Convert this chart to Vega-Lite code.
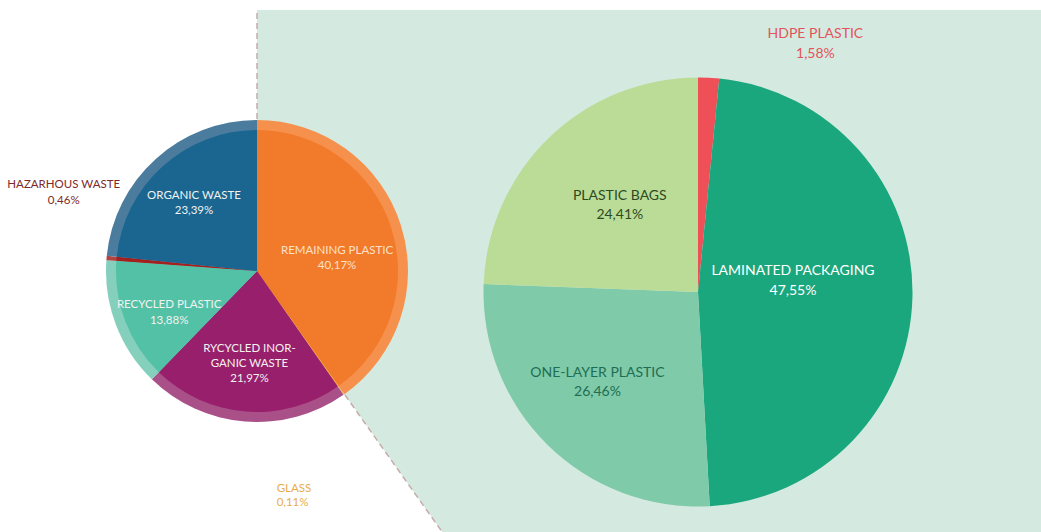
{
  "$schema": "https://vega.github.io/schema/vega-lite/v6.json",
  "width": 1041,
  "height": 522,
  "autosize": {"type": "none"},
  "padding": {"left": 0, "top": 10, "right": 0, "bottom": 0},
  "background": "white",
  "config": {"view": {"stroke": null}, "font": "Lato"},
  "datasets": {
    "waste": [
      {"chart": "All waste", "name": "REMAINING PLASTIC", "label": "REMAINING PLASTIC\n40,17%", "share": 40.17},
      {"chart": "All waste", "name": "GLASS", "label": "GLASS\n0,11%", "share": 0.11},
      {"chart": "All waste", "name": "RYCYCLED INORGANIC WASTE", "label": "RYCYCLED INOR-\nGANIC WASTE\n21,97%", "share": 21.97},
      {"chart": "All waste", "name": "RECYCLED PLASTIC", "label": "RECYCLED PLASTIC\n13,88%", "share": 13.88},
      {"chart": "All waste", "name": "HAZARHOUS WASTE", "label": "HAZARHOUS WASTE\n0,46%", "share": 0.46},
      {"chart": "All waste", "name": "ORGANIC WASTE", "label": "ORGANIC WASTE\n23,39%", "share": 23.39}
    ],
    "plastic": [
      {"chart": "Plastic waste", "name": "HDPE PLASTIC", "label": "HDPE PLASTIC\n1,58%", "share": 1.58},
      {"chart": "Plastic waste", "name": "LAMINATED PACKAGING", "label": "LAMINATED PACKAGING\n47,55%", "share": 47.55},
      {"chart": "Plastic waste", "name": "ONE-LAYER PLASTIC", "label": "ONE-LAYER PLASTIC\n26,46%", "share": 26.46},
      {"chart": "Plastic waste", "name": "PLASTIC BAGS", "label": "PLASTIC BAGS\n24,41%", "share": 24.41}
    ]
  },
  "encoding": {
    "x": {"field": "chart", "type": "nominal", "scale": {"type": "point", "domain": ["All waste", "Plastic waste"], "range": [257, 698], "padding": 0}, "axis": null},
    "y": {"field": "chart", "type": "nominal", "scale": {"type": "point", "domain": ["All waste", "Plastic waste"], "range": [261, 282], "padding": 0}, "axis": null},
    "theta": {"field": "share", "type": "quantitative", "stack": true},
    "order": {"field": "idx", "type": "quantitative"}
  },
  "layer": [
    {
      "data": {"name": "waste"},
      "transform": [{"window": [{"op": "row_number", "as": "idx"}]}],
      "mark": {"type": "arc", "radius": 950, "color": "#d4eae1", "stroke": "#c6aca8", "strokeWidth": 1.5, "strokeDash": [6, 4], "clip": true},
      "encoding": {
        "opacity": {"condition": {"test": "datum.name === 'REMAINING PLASTIC'", "value": 1}, "value": 0}
      }
    },
    {
      "data": {"name": "plastic"},
      "transform": [{"window": [{"op": "row_number", "as": "idx"}]}],
      "mark": {"type": "arc", "radius": 214.5},
      "encoding": {
        "color": {"field": "name", "type": "nominal", "legend": null,
          "scale": {"domain": ["HDPE PLASTIC", "LAMINATED PACKAGING", "ONE-LAYER PLASTIC", "PLASTIC BAGS"], "range": ["#ef4f57", "#1ba77d", "#7fcaa8", "#bbdc97"]}}
      }
    },
    {
      "data": {"name": "waste"},
      "transform": [{"window": [{"op": "row_number", "as": "idx"}]}],
      "mark": {"type": "arc", "radius": 151},
      "encoding": {
        "color": {"field": "name", "type": "nominal", "legend": null,
          "scale": {"domain": ["REMAINING PLASTIC", "GLASS", "RYCYCLED INORGANIC WASTE", "RECYCLED PLASTIC", "HAZARHOUS WASTE", "ORGANIC WASTE"], "range": ["#f6914d", "#f4b65a", "#a95089", "#84d0bd", "#b04545", "#4b7c9e"]}}
      }
    },
    {
      "data": {"name": "waste"},
      "transform": [{"window": [{"op": "row_number", "as": "idx"}]}],
      "mark": {"type": "arc", "radius": 141},
      "encoding": {
        "color": {"field": "name", "type": "nominal", "legend": null,
          "scale": {"domain": ["REMAINING PLASTIC", "GLASS", "RYCYCLED INORGANIC WASTE", "RECYCLED PLASTIC", "HAZARHOUS WASTE", "ORGANIC WASTE"], "range": ["#f27a2b", "#f2a93a", "#981f6c", "#52c1a6", "#a3201f", "#1b6690"]}}
      }
    },
    {
      "data": {"name": "waste"},
      "transform": [{"window": [{"op": "row_number", "as": "idx"}]}],
      "mark": {"type": "text", "radius": 94, "dy": -5, "fontSize": 11.5, "lineHeight": 15, "lineBreak": "\n", "color": "#f2f2f0"},
      "encoding": {
        "text": {"condition": {"test": "datum.name === 'ORGANIC WASTE'", "field": "label", "type": "nominal"}, "value": ""}
      }
    },
    {
      "data": {"name": "waste"},
      "transform": [{"window": [{"op": "row_number", "as": "idx"}]}],
      "mark": {"type": "text", "radius": 94, "dy": 1, "fontSize": 11.5, "lineHeight": 16, "lineBreak": "\n", "color": "#f2f2f0"},
      "encoding": {
        "text": {"condition": {"test": "datum.name === 'RECYCLED PLASTIC'", "field": "label", "type": "nominal"}, "value": ""}
      }
    },
    {
      "data": {"name": "waste"},
      "transform": [{"window": [{"op": "row_number", "as": "idx"}]}],
      "mark": {"type": "text", "radius": 94, "dy": -16, "fontSize": 11.5, "lineHeight": 15, "lineBreak": "\n", "color": "#f2f2f0"},
      "encoding": {
        "text": {"condition": {"test": "datum.name === 'RYCYCLED INORGANIC WASTE'", "field": "label", "type": "nominal"}, "value": ""}
      }
    },
    {
      "data": {"name": "waste"},
      "transform": [{"window": [{"op": "row_number", "as": "idx"}]}],
      "mark": {"type": "text", "radius": 84, "dy": 6, "fontSize": 11.5, "lineHeight": 15, "lineBreak": "\n", "color": "#fde0c8"},
      "encoding": {
        "text": {"condition": {"test": "datum.name === 'REMAINING PLASTIC'", "field": "label", "type": "nominal"}, "value": ""}
      }
    },
    {
      "data": {"name": "waste"},
      "transform": [{"window": [{"op": "row_number", "as": "idx"}]}],
      "mark": {"type": "text", "radius": 194, "dy": -69, "fontSize": 11.5, "lineHeight": 16, "lineBreak": "\n", "color": "#7d2a2a"},
      "encoding": {
        "text": {"condition": {"test": "datum.name === 'HAZARHOUS WASTE'", "field": "label", "type": "nominal"}, "value": ""}
      }
    },
    {
      "data": {"name": "waste"},
      "transform": [{"window": [{"op": "row_number", "as": "idx"}]}],
      "mark": {"type": "text", "radius": 272, "dx": -137, "dy": -4, "align": "left", "fontSize": 11.5, "lineHeight": 13.5, "lineBreak": "\n", "color": "#e8ad4a"},
      "encoding": {
        "text": {"condition": {"test": "datum.name === 'GLASS'", "field": "label", "type": "nominal"}, "value": ""}
      }
    },
    {
      "data": {"name": "plastic"},
      "transform": [{"window": [{"op": "row_number", "as": "idx"}]}],
      "mark": {"type": "text", "radius": 117, "dx": 3, "dy": -12, "fontSize": 14, "lineHeight": 19, "lineBreak": "\n", "color": "#2e4a22"},
      "encoding": {
        "text": {"condition": {"test": "datum.name === 'PLASTIC BAGS'", "field": "label", "type": "nominal"}, "value": ""}
      }
    },
    {
      "data": {"name": "plastic"},
      "transform": [{"window": [{"op": "row_number", "as": "idx"}]}],
      "mark": {"type": "text", "radius": 132, "dx": -8, "dy": -13, "fontSize": 14, "lineHeight": 19, "lineBreak": "\n", "color": "#1d6e54"},
      "encoding": {
        "text": {"condition": {"test": "datum.name === 'ONE-LAYER PLASTIC'", "field": "label", "type": "nominal"}, "value": ""}
      }
    },
    {
      "data": {"name": "plastic"},
      "transform": [{"window": [{"op": "row_number", "as": "idx"}]}],
      "mark": {"type": "text", "radius": 95, "dy": -23, "fontSize": 14, "lineHeight": 20, "lineBreak": "\n", "color": "#ffffff"},
      "encoding": {
        "text": {"condition": {"test": "datum.name === 'LAMINATED PACKAGING'", "field": "label", "type": "nominal"}, "value": ""}
      }
    },
    {
      "data": {"name": "plastic"},
      "transform": [{"window": [{"op": "row_number", "as": "idx"}]}],
      "mark": {"type": "text", "radius": 250, "dx": 105, "dy": -8, "fontSize": 14, "lineHeight": 20, "lineBreak": "\n", "color": "#e5535a"},
      "encoding": {
        "text": {"condition": {"test": "datum.name === 'HDPE PLASTIC'", "field": "label", "type": "nominal"}, "value": ""}
      }
    }
  ],
  "resolve": {"scale": {"color": "independent", "theta": "independent"}}
}
